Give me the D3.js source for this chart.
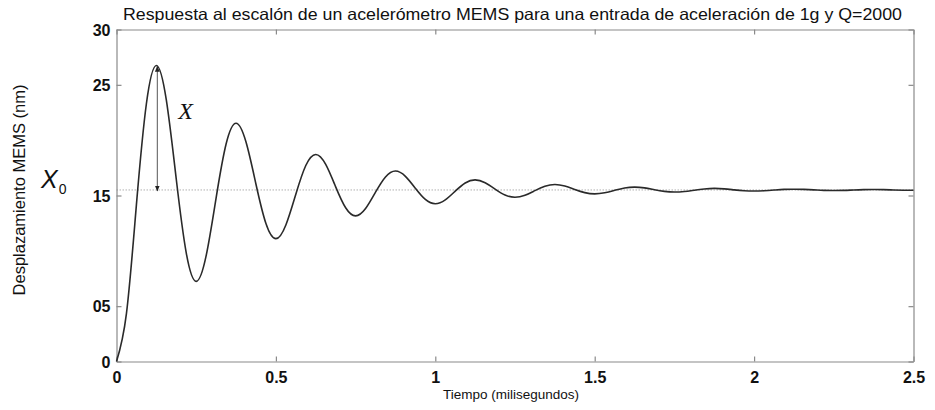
<!DOCTYPE html>
<html>
<head>
<meta charset="utf-8">
<script src="https://cdn.jsdelivr.net/npm/d3@7"></script>
<style>
  html, body { margin: 0; padding: 0; background: #fff; }
  svg { display: block; }
</style>
</head>
<body>
<svg id="chart" width="935" height="410"></svg>
<script>
// ---- Data ----
const timeMs = [
  0, 0.03125, 0.0625, 0.09375, 0.125, 0.15625, 0.1875, 0.21875,
  0.25, 0.28125, 0.3125, 0.34375, 0.375, 0.40625, 0.4375, 0.46875,
  0.5, 0.53125, 0.5625, 0.59375, 0.625, 0.65625, 0.6875, 0.71875,
  0.75, 0.78125, 0.8125, 0.84375, 0.875, 0.90625, 0.9375, 0.96875,
  1.0, 1.03125, 1.0625, 1.09375, 1.125, 1.15625, 1.1875, 1.21875,
  1.25, 1.28125, 1.3125, 1.34375, 1.375, 1.40625, 1.4375, 1.46875,
  1.5, 1.53125, 1.5625, 1.59375, 1.625, 1.65625, 1.6875, 1.71875,
  1.75, 1.78125, 1.8125, 1.84375, 1.875, 1.90625, 1.9375, 1.96875,
  2.0, 2.03125, 2.0625, 2.09375, 2.125, 2.15625, 2.1875, 2.21875,
  2.25, 2.28125, 2.3125, 2.34375, 2.375, 2.40625, 2.4375, 2.46875, 2.5
];
const displacementNm = [
  0, 4.35, 14.17, 23.29, 26.75, 23.63, 16.47, 9.82,
  7.24, 9.56, 14.79, 19.65, 21.53, 19.83, 16.02, 12.47,
  11.10, 12.34, 15.12, 17.71, 18.71, 17.81, 15.78, 13.89,
  13.16, 13.82, 15.30, 16.68, 17.21, 16.73, 15.65, 14.64,
  14.25, 14.60, 15.39, 16.13, 16.41, 16.15, 15.58, 15.04,
  14.84, 15.02, 15.44, 15.83, 15.99, 15.85, 15.54, 15.26,
  15.15, 15.25, 15.47, 15.68, 15.76, 15.69, 15.52, 15.37,
  15.31, 15.36, 15.48, 15.59, 15.64, 15.60, 15.51, 15.43,
  15.40, 15.43, 15.49, 15.55, 15.57, 15.55, 15.51, 15.46,
  15.45, 15.46, 15.50, 15.53, 15.54, 15.53, 15.50, 15.48, 15.47
];
const finalValue = 15.5;          // X0 level (dotted line)
const peakTime = 0.128;           // where the X arrow is drawn
const peakValue = 26.75;
const xTicks = [0, 0.5, 1, 1.5, 2, 2.5];
const xTickLabels = ["0", "0.5", "1", "1.5", "2", "2.5"];
const yTicks = [0, 5, 15, 25, 30];
const yTickLabels = ["0", "05", "15", "25", "30"];
const titleText = "Respuesta al escalón de un acelerómetro MEMS para una entrada de aceleración de 1g y Q=2000";
const xTitle = "Tiempo (milisegundos)";
const yTitle = "Desplazamiento MEMS (nm)";

// ---- Layout ----
const svg = d3.select("#chart");
const m = { left: 116.5, right: 913.5, top: 29.5, bottom: 361.5 };
const x = d3.scaleLinear().domain([0, 2.5]).range([m.left, m.right]);
const y = d3.scaleLinear().domain([0, 30]).range([m.bottom, m.top]);

const axisColor = "#8a8a8a";
const tickFont = "'Liberation Sans', Arial, sans-serif";

// dotted final-value line
svg.append("line")
  .attr("x1", x(0)).attr("x2", x(2.5))
  .attr("y1", y(finalValue)).attr("y2", y(finalValue))
  .attr("stroke", "#b0b0b0").attr("stroke-width", 1)
  .attr("stroke-dasharray", "1.5,1.5");

// axes (MATLAB-like box with inward ticks)
const gx = svg.append("g").attr("transform", `translate(0,${m.bottom})`)
  .call(d3.axisBottom(x).tickValues(xTicks).tickSizeInner(-5).tickSizeOuter(0)
    .tickFormat((d, i) => xTickLabels[i]));
const gxTop = svg.append("g").attr("transform", `translate(0,${m.top})`)
  .call(d3.axisTop(x).tickValues(xTicks).tickSizeInner(-5).tickSizeOuter(0).tickFormat(""));
const gy = svg.append("g").attr("transform", `translate(${m.left},0)`)
  .call(d3.axisLeft(y).tickValues(yTicks).tickSizeInner(-5).tickSizeOuter(0)
    .tickFormat((d, i) => yTickLabels[i]));
const gyR = svg.append("g").attr("transform", `translate(${m.right},0)`)
  .call(d3.axisRight(y).tickValues(yTicks).tickSizeInner(-5).tickSizeOuter(0).tickFormat(""));

[gx, gxTop, gy, gyR].forEach(g => {
  g.select(".domain").attr("stroke", axisColor).attr("stroke-width", 1.2);
  g.selectAll(".tick line").attr("stroke", axisColor).attr("stroke-width", 1.2);
});
gx.selectAll(".tick text")
  .attr("font-family", tickFont).attr("font-weight", "bold").attr("font-size", 16)
  .attr("fill", "#111").attr("dy", "0").attr("y", 21);
gy.selectAll(".tick text")
  .attr("font-family", tickFont).attr("font-weight", "bold").attr("font-size", 16)
  .attr("fill", "#111").attr("x", -6).attr("dy", "0.35em");

// response curve
const pts = timeMs.map((t, i) => [t, displacementNm[i]]);
svg.append("path")
  .datum(pts)
  .attr("fill", "none")
  .attr("stroke", "#2a2a2a")
  .attr("stroke-width", 1.6)
  .attr("d", d3.line().x(d => x(d[0])).y(d => y(d[1])).curve(d3.curveNatural));

// X arrow annotation (from peak down to final value)
const defs = svg.append("defs");
defs.append("marker").attr("id", "ah").attr("viewBox", "0 0 10 10")
  .attr("refX", 9).attr("refY", 5).attr("markerWidth", 6).attr("markerHeight", 6)
  .attr("orient", "auto-start-reverse")
  .append("path").attr("d", "M0,1 L10,5 L0,9 Z").attr("fill", "#222");
svg.append("line")
  .attr("x1", x(peakTime)).attr("x2", x(peakTime))
  .attr("y1", y(peakValue) + 1).attr("y2", y(finalValue) + 1)
  .attr("stroke", "#555").attr("stroke-width", 1)
  .attr("marker-start", "url(#ah)").attr("marker-end", "url(#ah)");
svg.append("text")
  .attr("x", x(peakTime) + 21).attr("y", y(peakValue) + 54)
  .attr("font-family", "'Liberation Serif', 'DejaVu Serif', serif")
  .attr("font-style", "italic").attr("font-size", 24).attr("fill", "#111")
  .text("X");

// X0 label
const x0 = svg.append("text")
  .attr("x", 41).attr("y", 188)
  .attr("font-family", "'Liberation Sans', Arial, sans-serif")
  .attr("font-style", "italic").attr("font-size", 25).attr("fill", "#111");
x0.append("tspan").text("X");
x0.append("tspan").attr("font-size", 14).attr("font-style", "normal").attr("dx", 1).attr("dy", 6).text("0");

// title
svg.append("text")
  .attr("x", 123).attr("y", 20)
  .attr("font-family", "'Liberation Sans', Arial, sans-serif")
  .attr("font-size", 16.5).attr("fill", "#111")
  .attr("textLength", 779).attr("lengthAdjust", "spacingAndGlyphs")
  .text(titleText);

// axis titles
svg.append("text")
  .attr("x", 511).attr("y", 399)
  .attr("text-anchor", "middle")
  .attr("font-family", "'Liberation Sans', Arial, sans-serif")
  .attr("font-size", 13.5).attr("fill", "#111")
  .text(xTitle);
svg.append("text")
  .attr("transform", "translate(25,190) rotate(-90)")
  .attr("text-anchor", "middle")
  .attr("font-family", "'Liberation Sans', Arial, sans-serif")
  .attr("font-size", 16.5).attr("fill", "#111")
  .text(yTitle);
</script>
</body>
</html>
